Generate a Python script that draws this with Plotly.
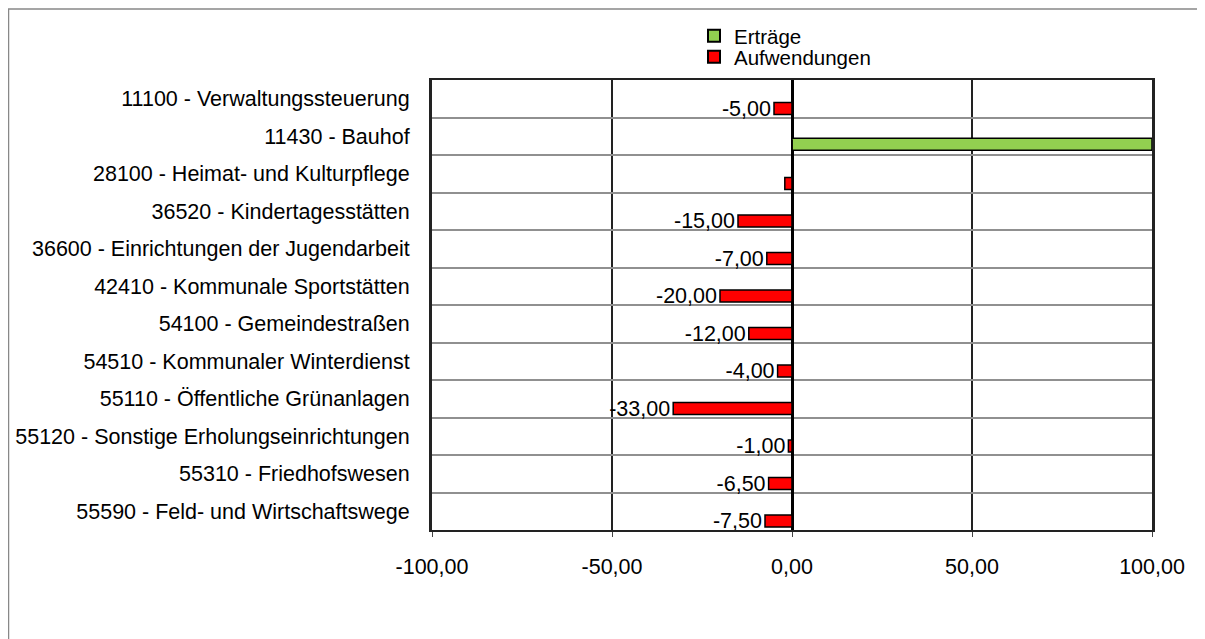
import plotly.graph_objects as go

categories = [
    "11100 - Verwaltungssteuerung",
    "11430 - Bauhof",
    "28100 - Heimat- und Kulturpflege",
    "36520 - Kindertagesstätten",
    "36600 - Einrichtungen der Jugendarbeit",
    "42410 - Kommunale Sportstätten",
    "54100 - Gemeindestraßen",
    "54510 - Kommunaler Winterdienst",
    "55110 - Öffentliche Grünanlagen",
    "55120 - Sonstige Erholungseinrichtungen",
    "55310 - Friedhofswesen",
    "55590 - Feld- und Wirtschaftswege",
]
ertraege = [0, 100, 0, 0, 0, 0, 0, 0, 0, 0, 0, 0]
aufwendungen = [-5.0, 0, -2.0, -15.0, -7.0, -20.0, -12.0, -4.0, -33.0, -1.0, -6.5, -7.5]
aufw_labels = ["-5,00", "", "", "-15,00", "-7,00", "-20,00", "-12,00", "-4,00",
               "-33,00", "-1,00", "-6,50", "-7,50"]
x_ticks = [-100, -50, 0, 50, 100]
x_tick_labels = ["-100,00", "-50,00", "0,00", "50,00", "100,00"]

FONT = "Liberation Sans, Arial"
FS = 21.5
W, H = 1197, 631  # page has an 8px body margin

fig = go.Figure()
fig.add_trace(go.Bar(
    y=categories, x=ertraege, orientation="h", name="Erträge",
    marker=dict(color="#92D050", line=dict(color="black", width=1.5)),
    width=0.32, offset=0.05, legend="legend",
))
fig.add_trace(go.Bar(
    y=categories, x=aufwendungen, orientation="h", name="Aufwendungen",
    marker=dict(color="#FF0000", line=dict(color="black", width=1.5)),
    width=0.32, offset=0.1, legend="legend2",
    text=aufw_labels, textposition="outside", cliponaxis=False,
    constraintext="none",
    textfont=dict(size=FS, color="black", family=FONT),
))

leg_common = dict(
    xref="container", yref="container", xanchor="left", yanchor="middle",
    bgcolor="rgba(0,0,0,0)", font=dict(size=20.5, family=FONT),
    itemsizing="constant", itemwidth=30,
)
fig.update_layout(
    width=W, height=H,
    barmode="overlay",
    separators=",.",
    paper_bgcolor="white", plot_bgcolor="white",
    margin=dict(l=424, r=53, t=72, b=109, autoexpand=False),
    font=dict(family=FONT, size=FS, color="black"),
    showlegend=True,
    legend=dict(x=686 / W, y=1 - 28 / H, **leg_common),
    legend2=dict(x=686 / W, y=1 - 49 / H, **leg_common),
    xaxis=dict(
        range=[-100, 100], tickvals=x_ticks, ticktext=x_tick_labels,
        showgrid=True, gridcolor="#222222", gridwidth=1.5,
        zeroline=True, zerolinecolor="black", zerolinewidth=3,
        showline=True, linecolor="#222222", linewidth=2, mirror=True,
        ticks="outside", ticklen=5, tickcolor="#444444",
        ticklabelstandoff=11,
        tickfont=dict(size=FS),
    ),
    yaxis=dict(
        autorange="reversed", type="category",
        tickson="boundaries",
        showgrid=True, gridcolor="#909090", gridwidth=2,
        showline=True, linecolor="#222222", linewidth=3, mirror=True,
        ticks="", ticklabelstandoff=15,
        tickfont=dict(size=FS),
    ),
    shapes=[dict(
        type="rect", xref="paper", yref="paper",
        x0=(0.5 - 424) / 720, x1=1.2, y0=-0.4, y1=(522 - 1) / 450,
        line=dict(color="#888888", width=1.5), fillcolor="rgba(0,0,0,0)",
        layer="below",
    )],
)

fig.write_html("out.html")
